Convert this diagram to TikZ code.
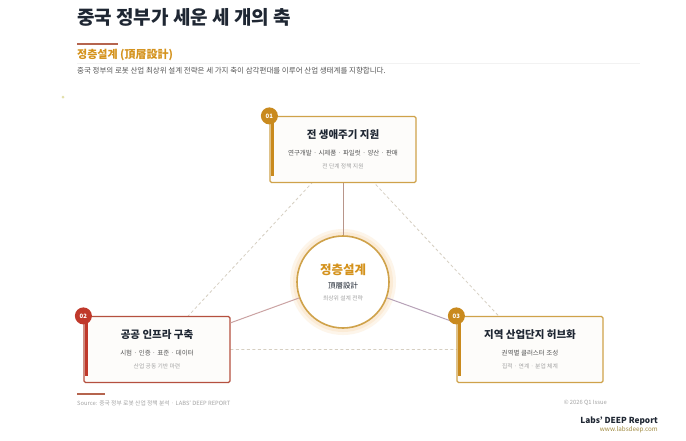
\documentclass[tikz,border=0pt]{standalone}
\usepackage{fontspec}
\setmainfont{Noto Sans CJK KR}
\usetikzlibrary{positioning,backgrounds}
\definecolor{inkNavy}{HTML}{1F2733}
\definecolor{goldTxt}{HTML}{D4921C}
\definecolor{goldLine}{HTML}{CFA24A}
\definecolor{goldBadge}{HTML}{C98A1E}
\definecolor{redLine}{HTML}{B5503F}
\definecolor{redBadge}{HTML}{C0392B}
\definecolor{accentRule}{HTML}{B5644E}
\definecolor{textGray}{HTML}{555555}
\definecolor{noteGray}{HTML}{A3A3A3}
\definecolor{dashGray}{HTML}{D6CFC2}
\definecolor{glowOrange}{HTML}{FBE3C4}
\definecolor{boxFill}{HTML}{FDFCFA}
\definecolor{linkTop}{HTML}{B8958A}
\definecolor{linkLeft}{HTML}{CBA3A3}
\definecolor{linkRight}{HTML}{B7A2B8}
\definecolor{webOlive}{HTML}{A08A40}
\newcommand{\axtitle}{\bfseries\fontsize{10.5}{12}\selectfont\color{inkNavy}}
\newcommand{\axnote}{\fontsize{5.8}{7}\selectfont\color{noteGray}}
\tikzset{
  axisbox/.style={rectangle, draw=#1, line width=1.2pt, rounded corners=1.5pt,
                  fill=boxFill, minimum width=146pt, minimum height=66pt,
                  align=center, inner sep=0pt, text=textGray,
                  font=\fontsize{6.5}{8}\selectfont},
  corebox/.style={circle, draw=goldLine, line width=1.6pt, fill=white,
                  minimum size=92pt, inner sep=0pt, align=center,
                  text=inkNavy, font=\fontsize{7.5}{9}\selectfont},
  badge/.style={circle, fill=#1, minimum size=17pt, inner sep=0pt,
                text=white, font=\bfseries\fontsize{6}{7}\selectfont},
  sidebar/.style={line width=2.5pt, draw=#1},
  link/.style={line width=1pt, draw=#1},
  tri/.style={dash pattern=on 3pt off 2.5pt, line width=0.8pt, draw=dashGray},
  smalltxt/.style={anchor=west, inner sep=0pt, text=#1},
}

\begin{document}
\begin{tikzpicture}[x=1pt,y=-1pt]
  \useasboundingbox (0,0) rectangle (686,440);

  % header
  \node[smalltxt=inkNavy, font=\bfseries\fontsize{19}{22}\selectfont] (title) at (77,17) {중국 정부가 세운 세 개의 축};
  \draw[accentRule, line width=2pt] (77,44) -- (118,44);
  \node[smalltxt=goldTxt, font=\bfseries\fontsize{11}{13}\selectfont] (subtitle) at (77,55) {정층설계 (頂層設計)};
  \draw[black!5, line width=.8pt] (77,63) -- (640,63);
  \node[smalltxt=textGray, font=\fontsize{7.5}{9}\selectfont] (lead) at (77,71) {중국 정부의 로봇 산업 최상위 설계 전략은 세 가지 축이 삼각편대를 이루어 산업 생태계를 지향합니다.};
  \fill[olive!25] (63,97) circle (1.5pt);

  % three axes and the core
  \node[axisbox=goldLine] (lifecycle) at (343,149.5)
    {{\axtitle 전 생애주기 지원}\\[9pt]연구개발 · 시제품 · 파일럿 · 양산 · 판매\\[5pt]{\axnote 전 단계 정책 지원}};
  \node[axisbox=redLine] (infra) at (157,349.5)
    {{\axtitle 공공 인프라 구축}\\[9pt]시험 · 인증 · 표준 · 데이터\\[5pt]{\axnote 산업 공동 기반 마련}};
  \node[axisbox=goldLine] (hub) at (530,349.5)
    {{\axtitle 지역 산업단지 허브화}\\[9pt]권역별 클러스터 조성\\[5pt]{\axnote 집적 · 연계 · 분업 체계}};
  \node[corebox] (core) at (343,282)
    {{\bfseries\fontsize{12.5}{14}\selectfont\color{goldTxt}정층설계}\\[5pt]頂層設計\\[3pt]{\axnote 최상위 설계 전략}};

  \begin{scope}[on background layer]
    \fill[white] (0,0) rectangle (686,440);
    \draw[tri] (lifecycle.center) -- (infra.center) -- (hub.center) -- cycle;
    \fill[glowOrange, opacity=.35] (core.center) circle (53pt);
    \fill[glowOrange, opacity=.5] (core.center) circle (50pt);
  \end{scope}

  \draw[link=linkTop] (lifecycle) -- (core);
  \draw[link=linkLeft] (core) -- (infra);
  \draw[link=linkRight] (core) -- (hub);

  % badges and side bars
  \foreach \axn/\tone/\num in {lifecycle/goldBadge/01, infra/redBadge/02, hub/goldBadge/03} {
    \draw[sidebar=\tone] ([xshift=3pt]\axn.north west) -- ([xshift=3pt,yshift=7pt]\axn.south west);
    \node[badge=\tone] (badge\num) at (\axn.north west) {\num};
  }

  % footer
  \draw[accentRule, line width=1.5pt] (77,394) -- (105,394);
  \node[smalltxt=noteGray, font=\fontsize{5.8}{7}\selectfont] (source) at (77,403) {Source: 중국 정부 로봇 산업 정책 분석 · LABS' DEEP REPORT};
  \node[smalltxt=noteGray, anchor=east, font=\fontsize{5.8}{7}\selectfont] (issue) at (607,403) {© 2026 Q1 Issue};
  \node[smalltxt=inkNavy, anchor=east, font=\bfseries\fontsize{8.3}{10}\selectfont] (brand) at (658,421) {Labs' DEEP Report};
  \node[smalltxt=webOlive, anchor=east, font=\fontsize{6.3}{8}\selectfont] (web) at (658,430) {www.labsdeep.com};
\end{tikzpicture}
\end{document}
